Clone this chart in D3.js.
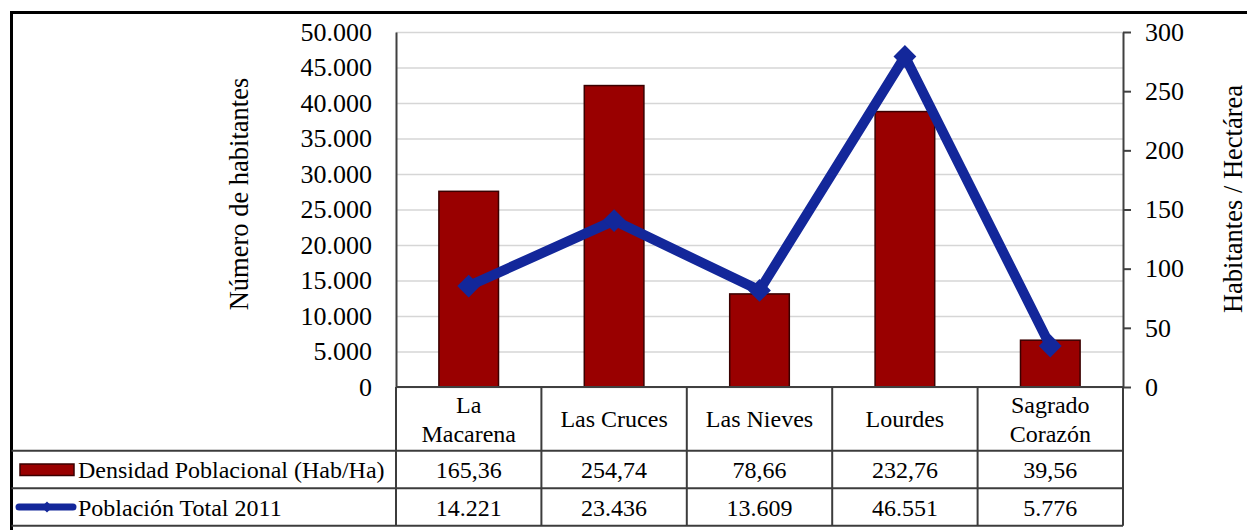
<!DOCTYPE html>
<html>
<head>
<meta charset="utf-8">
<script src="https://cdn.jsdelivr.net/npm/d3@7"></script>
<style>
  html, body { margin: 0; padding: 0; background: #fff; }
  svg { display: block; }
</style>
</head>
<body>
<svg id="chart" width="1247" height="530"></svg>
<script>
// ---- Data ----
const categories = ["La Macarena", "Las Cruces", "Las Nieves", "Lourdes", "Sagrado Corazón"];
const categoryLines = [["La", "Macarena"], ["Las Cruces"], ["Las Nieves"], ["Lourdes"], ["Sagrado", "Corazón"]];
const densidad = [165.36, 254.74, 78.66, 232.76, 39.56];
const poblacion = [14221, 23436, 13609, 46551, 5776];
const seriesNames = ["Densidad Poblacional (Hab/Ha)", "Población Total 2011"];
const leftTicks = [0, 5000, 10000, 15000, 20000, 25000, 30000, 35000, 40000, 45000, 50000];
const rightTicks = [0, 50, 100, 150, 200, 250, 300];
const axisTitles = ["Número de habitantes", "Habitantes / Hectárea"];

// ---- Setup ----
const FONT = "'Liberation Serif', 'Times New Roman', serif";
const es = d3.formatLocale({ decimal: ",", thousands: ".", grouping: [3], currency: ["", ""] });
const fmtInt = es.format(",d");
const fmtDec = es.format(",.2f");

const svg = d3.select("#chart");
const plotL = 396, plotR = 1123, plotT = 32, plotB = 387;
const tableRows = [387, 450.7, 488.3, 525.7];
const outerL = 11.5, outerT = 12.5;

const x = d3.scaleBand().domain(categories).range([plotL, plotR]).paddingInner(0).paddingOuter(0);
const yL = d3.scaleLinear().domain([0, 50000]).range([plotB, plotT]);
const yR = d3.scaleLinear().domain([0, 300]).range([plotB, plotT]);

const barColor = "#990000", barStroke = "#3a0000";
const lineColor = "#13279a";
const tableStroke = "#3c3c3c";

// outer border
svg.append("rect").attr("x", outerL).attr("y", outerT).attr("width", 1400).attr("height", 700)
  .attr("fill", "none").attr("stroke", "#000").attr("stroke-width", 3);

// gridlines
const grid = svg.append("g").attr("transform", `translate(${plotL},0)`)
  .call(d3.axisLeft(yL).tickValues(leftTicks).tickSize(-(plotR - plotL)).tickFormat(""));
grid.select(".domain").remove();
grid.selectAll("line").attr("stroke", "#d6d6d6").attr("stroke-width", 1.5);

// bars (right axis)
const bw = x.bandwidth() * 0.41;
svg.append("g").selectAll("rect").data(categories).join("rect")
  .attr("x", d => x(d) + (x.bandwidth() - bw) / 2)
  .attr("y", (d, i) => yR(densidad[i]))
  .attr("width", bw)
  .attr("height", (d, i) => yR(0) - yR(densidad[i]))
  .attr("fill", barColor).attr("stroke", barStroke).attr("stroke-width", 1.5);

// left axis
const fsTick = 26;
const axL = svg.append("g").attr("transform", `translate(${plotL},0)`)
  .call(d3.axisLeft(yL).tickValues(leftTicks).tickSize(0).tickSizeOuter(0).tickPadding(24).tickFormat(fmtInt));
axL.attr("font-family", null).attr("font-size", null);
axL.select(".domain").attr("stroke", "#404040").attr("stroke-width", 2);
axL.selectAll("text").attr("font-size", fsTick).attr("font-family", FONT).attr("fill", "#000");

// right axis
const axR = svg.append("g").attr("transform", `translate(${plotR},0)`)
  .call(d3.axisRight(yR).tickValues(rightTicks).tickSize(8).tickSizeOuter(0).tickPadding(14).tickFormat(fmtInt));
axR.attr("font-family", null).attr("font-size", null);
axR.select(".domain").attr("stroke", "#404040").attr("stroke-width", 2);
axR.selectAll("line").attr("stroke", "#404040").attr("stroke-width", 2);
axR.selectAll("text").attr("font-size", fsTick).attr("font-family", FONT).attr("fill", "#000");

// x axis line
svg.append("line").attr("x1", plotL).attr("x2", plotR).attr("y1", yL(0)).attr("y2", yL(0))
  .attr("stroke", "#404040").attr("stroke-width", 2);

// line series (left axis)
const lineGen = d3.line().x((d, i) => x(categories[i]) + x.bandwidth() / 2).y(d => yL(d));
svg.append("path").datum(poblacion).attr("d", lineGen)
  .attr("fill", "none").attr("stroke", lineColor).attr("stroke-width", 10).attr("stroke-linejoin", "miter");
const diamond = d3.symbol().type(d3.symbolSquare).size(260);
svg.append("g").selectAll("path").data(poblacion).join("path")
  .attr("d", diamond)
  .attr("transform", (d, i) => `translate(${x(categories[i]) + x.bandwidth() / 2},${yL(d)}) rotate(45)`)
  .attr("fill", lineColor);

// axis titles
const fsTitle = 26.5;
svg.append("text").attr("transform", "translate(247.5,194) rotate(-90)")
  .attr("text-anchor", "middle").attr("font-family", FONT).attr("font-size", fsTitle).text(axisTitles[0]);
svg.append("text").attr("transform", "translate(1242,199) rotate(-90)")
  .attr("text-anchor", "middle").attr("font-family", FONT).attr("font-size", fsTitle).text(axisTitles[1]);

// data table
const fsTable = 24;
const tbl = svg.append("g");
tbl.append("line").attr("x1", outerL).attr("x2", plotR).attr("y1", tableRows[1]).attr("y2", tableRows[1]);
tbl.append("line").attr("x1", outerL).attr("x2", plotR).attr("y1", tableRows[2]).attr("y2", tableRows[2]);
tbl.append("line").attr("x1", outerL).attr("x2", plotR).attr("y1", tableRows[3]).attr("y2", tableRows[3]);
const colEdges = categories.map(c => x(c)).concat([plotR]);
tbl.selectAll("line.v").data(colEdges).join("line").attr("class", "v")
  .attr("x1", d => d).attr("x2", d => d).attr("y1", tableRows[0]).attr("y2", tableRows[3]);
tbl.selectAll("line").attr("stroke", tableStroke).attr("stroke-width", 2);

// header labels
const hdrCenter = (tableRows[0] + tableRows[1]) / 2;
categoryLines.forEach((lines, i) => {
  const t = svg.append("text").attr("text-anchor", "middle").attr("font-family", FONT).attr("font-size", fsTable);
  lines.forEach((ln, j) => {
    t.append("tspan").attr("x", x(categories[i]) + x.bandwidth() / 2)
      .attr("y", hdrCenter + (j - (lines.length - 1) / 2) * 28.4 + 8.5).text(ln);
  });
});

// values
const r1 = (tableRows[1] + tableRows[2]) / 2 + 8.5;
const r2 = (tableRows[2] + tableRows[3]) / 2 + 8.5;
svg.append("g").selectAll("text").data(densidad).join("text")
  .attr("x", (d, i) => x(categories[i]) + x.bandwidth() / 2).attr("y", r1)
  .attr("text-anchor", "middle").attr("font-family", FONT).attr("font-size", fsTable).text(d => fmtDec(d));
svg.append("g").selectAll("text").data(poblacion).join("text")
  .attr("x", (d, i) => x(categories[i]) + x.bandwidth() / 2).attr("y", r2)
  .attr("text-anchor", "middle").attr("font-family", FONT).attr("font-size", fsTable).text(d => fmtInt(d));

// legend keys
const c1 = (tableRows[1] + tableRows[2]) / 2, c2 = (tableRows[2] + tableRows[3]) / 2;
svg.append("rect").attr("x", 20).attr("y", c1 - 5.5).attr("width", 54).attr("height", 11.5)
  .attr("fill", barColor).attr("stroke", barStroke).attr("stroke-width", 1.5);
svg.append("line").attr("x1", 19).attr("x2", 73).attr("y1", c2).attr("y2", c2)
  .attr("stroke", lineColor).attr("stroke-width", 7).attr("stroke-linecap", "round");
svg.append("path").attr("d", d3.symbol().type(d3.symbolSquare).size(60))
  .attr("transform", `translate(47,${c2}) rotate(45)`).attr("fill", lineColor);
svg.append("text").attr("x", 78).attr("y", r1).attr("font-family", FONT).attr("font-size", fsTable).text(seriesNames[0]);
svg.append("text").attr("x", 78).attr("y", r2).attr("font-family", FONT).attr("font-size", fsTable).text(seriesNames[1]);
</script>
</body>
</html>
